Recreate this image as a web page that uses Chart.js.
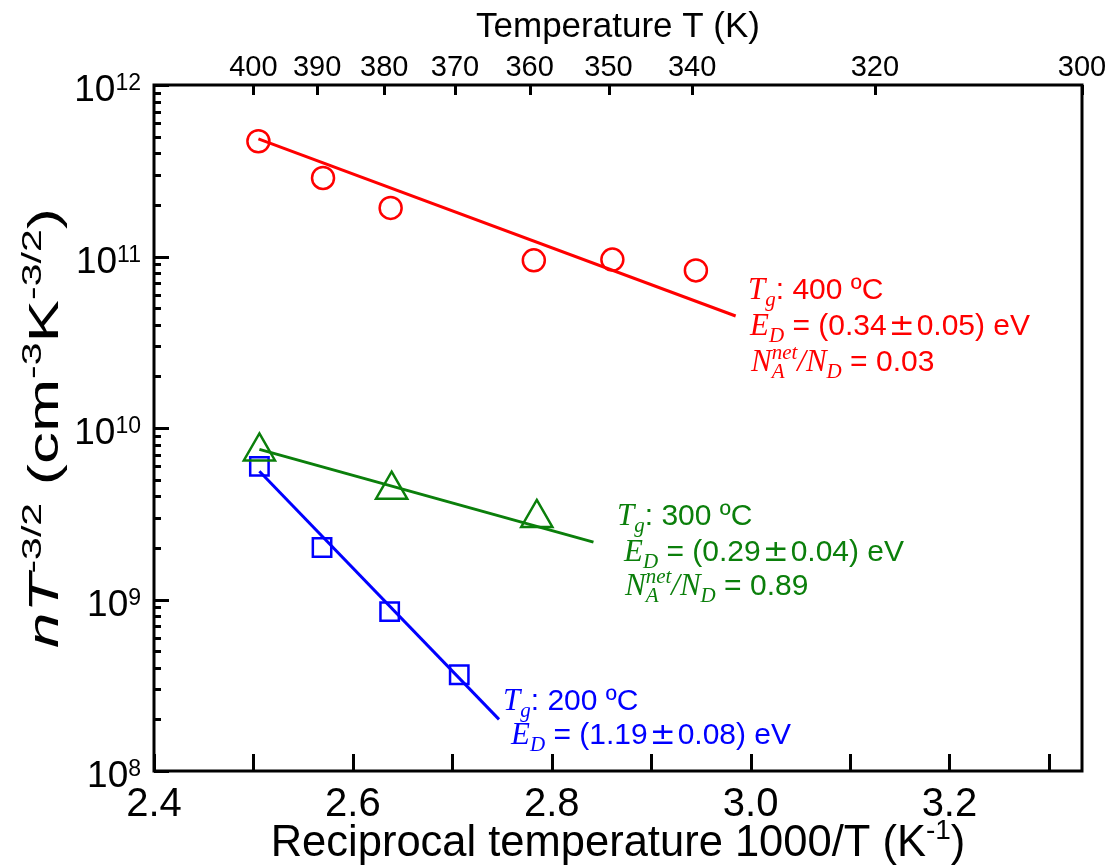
<!DOCTYPE html>
<html>
<head>
<meta charset="utf-8">
<script src="https://cdn.jsdelivr.net/npm/chart.js@4"></script>
<style>
	html, body { margin: 0; padding: 0; background: #fff; }
	#wrap { width: 1116px; height: 867px; position: relative; }
</style>
</head>
<body>
<div id="wrap"><canvas id="chart"></canvas></div>
<script>
// measured points, x = 1000/T (K^-1)
const invT400 = [2.505, 2.570, 2.638, 2.782, 2.861, 2.945];
const vals400 = [4.7e11, 2.87e11, 1.92e11, 9.5e10, 9.6e10, 8.3e10];
const invT300 = [2.506, 2.639, 2.785];
const vals300 = [7.3e9, 4.37e9, 2.99e9];
const invT200 = [2.506, 2.569, 2.637, 2.707];
const vals200 = [5.97e9, 2.01e9, 8.5e8, 3.64e8];

// fitted lines (end points)
const fitX400 = [2.505, 2.985];
const fitY400 = [4.85e11, 4.5e10];
const fitX300 = [2.506, 2.842];
const fitY300 = [7.5e9, 2.16e9];
const fitX200 = [2.506, 2.747];
const fitY200 = [5.6e9, 2.0e8];

// axes
const bottomTicks = [2.4, 2.6, 2.8, 3.0, 3.2];
const bottomMinorTicks = [2.5, 2.7, 2.9, 3.1, 3.3];
const topTemps = [400, 390, 380, 370, 360, 350, 340, 320, 300];
const yPowers = [8, 9, 10, 11, 12];

const RED = "#ff0000";
const GREEN = "#0b7f0b";
const BLUE = "#0000ff";
const SANS = '"Liberation Sans", Arial, sans-serif';
const SERIF = '"Liberation Serif", "Times New Roman", serif';
const PM = '"DejaVu Sans", sans-serif';

const toPoints = (xs, ys) => xs.map((x, i) => ({ x, y: ys[i] }));

// parts: [text, font, dy, stack, gap]
const layoutRich = (ctx, parts) => {
	let cursor = 0;
	let prevStart = 0;
	const out = [];
	parts.forEach(([text, font, dy = 0, stack = false, gap = 0]) => {
		ctx.font = font;
		const w = ctx.measureText(text).width;
		const px = stack ? prevStart : cursor + gap;
		out.push({ text, font, dy, px });
		prevStart = px;
		cursor = Math.max(cursor, px + w + gap);
	});
	return { out, width: cursor };
};

const drawRich = (ctx, parts, x, y, align, stretchTo) => {
	const { out, width } = layoutRich(ctx, parts);
	const sx = stretchTo ? stretchTo / width : 1;
	let x0 = 0;
	if (align === "center") x0 = -width / 2;
	if (align === "right") x0 = -width;
	ctx.save();
	ctx.translate(x, y);
	ctx.scale(sx, 1);
	ctx.textAlign = "left";
	ctx.textBaseline = "alphabetic";
	out.forEach(p => {
		ctx.font = p.font;
		ctx.fillText(p.text, x0 + p.px, p.dy);
	});
	ctx.restore();
};

const sub = (t, size = 21) => [t, `italic ${size}px ${SERIF}`, 7];
const sup = (t, size = 21) => [t, `italic ${size}px ${SERIF}`, -12, true];
const ital = (t, size = 31) => [t, `italic ${size}px ${SERIF}`, 0];
const txt = (t, size = 30) => [t, `${size}px ${SANS}`, 0];
const pm = () => ["±", `31px ${PM}`, 0, false, 2];

const annotations = [
	{ color: RED, x: 748, y: 299, parts: [ital("T"), sub("g"), txt(": 400 ºC")] },
	{ color: RED, x: 750, y: 335, parts: [ital("E"), sub("D"), txt(" = (0.34"), pm(), txt("0.05) eV")] },
	{ color: RED, x: 751, y: 371, parts: [ital("N"), sub("A"), sup("net"), ital("/N"), sub("D"), txt(" = 0.03")] },
	{ color: GREEN, x: 617, y: 525, parts: [ital("T"), sub("g"), txt(": 300 ºC")] },
	{ color: GREEN, x: 624, y: 561, parts: [ital("E"), sub("D"), txt(" = (0.29"), pm(), txt("0.04) eV")] },
	{ color: GREEN, x: 625, y: 595, parts: [ital("N"), sub("A"), sup("net"), ital("/N"), sub("D"), txt(" = 0.89")] },
	{ color: BLUE, x: 503, y: 710, parts: [ital("T"), sub("g"), txt(": 200 ºC")] },
	{ color: BLUE, x: 511, y: 744, parts: [ital("E"), sub("D"), txt(" = (1.19"), pm(), txt("0.08) eV")] }
];

const framePlugin = {
	id: "frame",
	afterDraw(chart) {
		const { ctx, chartArea: a, scales } = chart;
		const xs = scales.x;
		const xt = scales.xTop;
		const ys = scales.y;
		ctx.save();
		ctx.strokeStyle = "#000";
		ctx.fillStyle = "#000";
		ctx.lineWidth = 3;
		ctx.lineCap = "butt";

		// ticks, all pointing inwards
		ctx.beginPath();
		bottomTicks.concat(bottomMinorTicks).forEach(v => {
			const px = Math.round(xs.getPixelForValue(v)) + 0.5;
			ctx.moveTo(px, a.bottom);
			ctx.lineTo(px, a.bottom - 17);
		});
		topTemps.forEach(t => {
			const px = Math.round(xt.getPixelForValue(1000 / t)) + 0.5;
			ctx.moveTo(px, a.top);
			ctx.lineTo(px, a.top + 10);
		});
		yPowers.forEach((p, i) => {
			const py = Math.round(ys.getPixelForValue(Math.pow(10, p))) + 0.5;
			ctx.moveTo(a.left, py);
			ctx.lineTo(a.left + 15, py);
			if (i < yPowers.length - 1) {
				for (let m = 2; m <= 9; m++) {
					const my = Math.round(ys.getPixelForValue(m * Math.pow(10, p))) + 0.5;
					ctx.moveTo(a.left, my);
					ctx.lineTo(a.left + 7, my);
				}
			}
		});
		ctx.stroke();

		ctx.strokeRect(a.left, a.top, a.right - a.left, a.bottom - a.top);

		// tick labels
		ctx.font = `40px ${SANS}`;
		ctx.textAlign = "center";
		ctx.textBaseline = "alphabetic";
		bottomTicks.forEach(v => {
			ctx.fillText(v.toFixed(1), xs.getPixelForValue(v), 816);
		});

		ctx.font = `29px ${SANS}`;
		topTemps.forEach(t => {
			ctx.fillText(String(t), xt.getPixelForValue(1000 / t), 76);
		});

		yPowers.forEach(p => {
			const py = ys.getPixelForValue(Math.pow(10, p));
			drawRich(ctx, [txt("10", 37), [String(p), `23px ${SANS}`, -11]], 141, py + 16, "right");
		});

		// axis titles
		ctx.textAlign = "center";
		ctx.font = `35px ${SANS}`;
		ctx.fillText("Temperature T (K)", (a.left + a.right) / 2, 37);
		drawRich(ctx, [txt("Reciprocal temperature 1000/T (K", 43.5), ["-1", `28px ${SANS}`, -17], txt(")", 43.5)],
			(a.left + a.right) / 2, 856, "center");

		ctx.save();
		ctx.translate(58, 428);
		ctx.rotate(-Math.PI / 2);
		drawRich(ctx, [
			["nT", `italic 42px ${SANS}`, 0],
			["-3/2", `27px ${SANS}`, -17],
			txt(" (cm", 42),
			["-3", `27px ${SANS}`, -17],
			txt("K", 42),
			["-3/2", `27px ${SANS}`, -17],
			txt(")", 42)
		], 0, 0, "center", 440);
		ctx.restore();

		annotations.forEach(an => {
			ctx.fillStyle = an.color;
			drawRich(ctx, an.parts, an.x, an.y, "left");
		});
		ctx.restore();
	}
};

const lineSet = (xs, ys, color) => ({
	data: toPoints(xs, ys),
	showLine: true,
	borderColor: color,
	borderWidth: 3,
	pointRadius: 0,
	fill: false,
	xAxisID: "x",
	yAxisID: "y"
});

const markerSet = (xs, ys, color, style, radius) => ({
	data: toPoints(xs, ys),
	showLine: false,
	borderColor: color,
	backgroundColor: "transparent",
	borderWidth: 2.5,
	pointStyle: style,
	pointRadius: radius,
	xAxisID: "x",
	yAxisID: "y"
});

new Chart(document.getElementById("chart"), {
	type: "scatter",
	data: {
		datasets: [
			lineSet(fitX400, fitY400, RED),
			lineSet(fitX300, fitY300, GREEN),
			lineSet(fitX200, fitY200, BLUE),
			markerSet(invT400, vals400, RED, "circle", 11),
			markerSet(invT300, vals300, GREEN, "triangle", 18),
			markerSet(invT200, vals200, BLUE, "rect", 13)
		]
	},
	options: {
		responsive: true,
		maintainAspectRatio: false,
		animation: false,
		layout: { padding: { left: 0, right: 34, top: 0, bottom: 0 } },
		plugins: { legend: { display: false }, tooltip: { enabled: false } },
		scales: {
			x: {
				type: "linear",
				position: "bottom",
				min: 2.4,
				max: 1000 / 300,
				grid: { display: false },
				border: { display: false },
				ticks: { display: false },
				afterFit: s => { s.height = 96; }
			},
			xTop: {
				type: "linear",
				position: "top",
				min: 2.4,
				max: 1000 / 300,
				grid: { display: false },
				border: { display: false },
				ticks: { display: false },
				afterFit: s => { s.height = 85; }
			},
			y: {
				type: "logarithmic",
				min: 1e8,
				max: 1e12,
				grid: { display: false },
				border: { display: false },
				ticks: { display: false },
				afterFit: s => { s.width = 154; }
			}
		}
	},
	plugins: [framePlugin]
});
</script>
</body>
</html>
